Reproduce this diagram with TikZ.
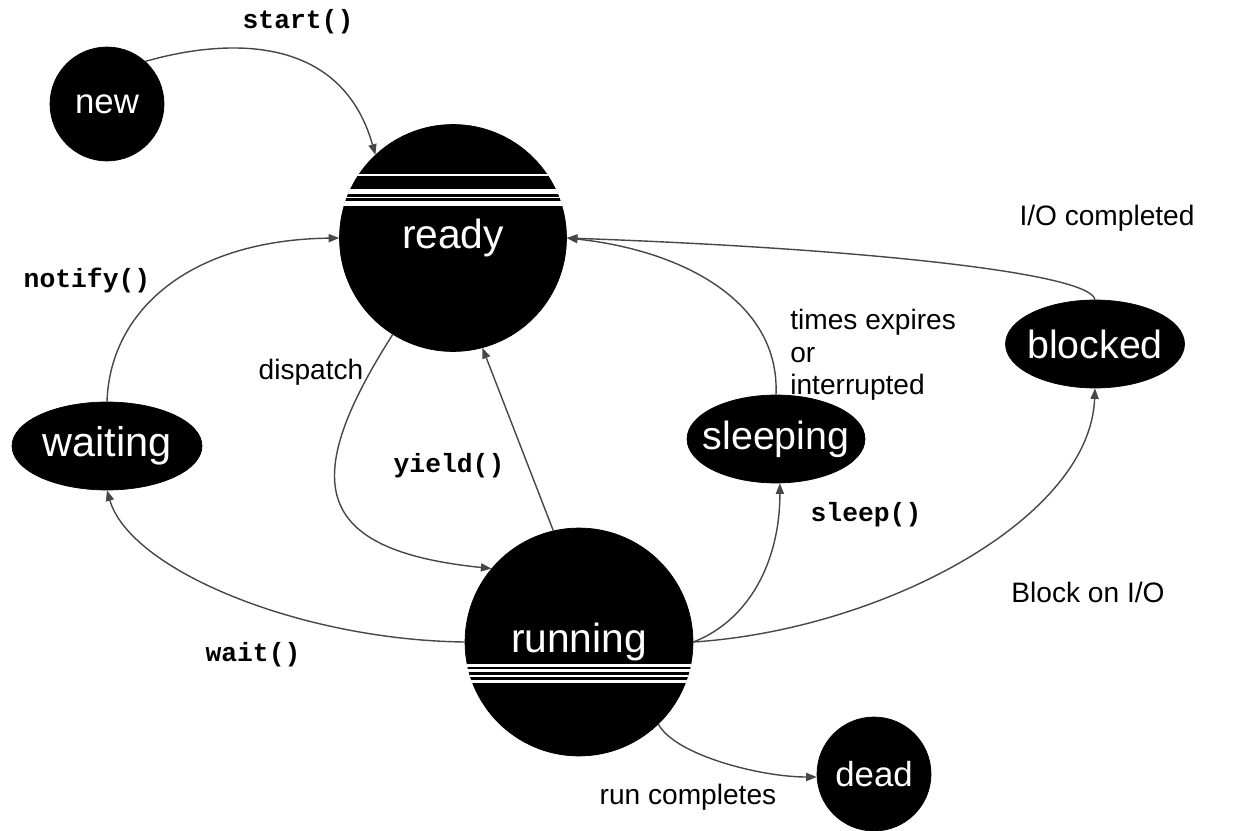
\documentclass[tikz,border=0pt]{standalone}
\usepackage{fontspec}
\setmainfont{Liberation Sans}
\setmonofont{Liberation Mono}
\usetikzlibrary{shapes.geometric,arrows.meta}
\begin{document}
\begin{tikzpicture}[x=0.02cm,y=-0.02cm,
  state/.style={circle,fill=black,draw=black,inner sep=0pt,text=white},
  ostate/.style={ellipse,fill=black,draw=black,inner sep=0pt},
  conn/.style={draw=black!72,line width=0.8pt,-{Triangle[length=6pt,width=4.6pt]}},
  lbl/.style={font=\fontsize{16}{18.4}\selectfont,inner sep=0pt,text=black},
  code/.style={font=\fontsize{15}{17}\selectfont\ttfamily\bfseries,inner sep=0pt,text=black},
  big/.style={font=\fontsize{23.2}{26}\selectfont},
  small/.style={font=\fontsize{19.8}{22}\selectfont},
  stripe/.style={fill=white},
]
\useasboundingbox[fill=white] (0,0) rectangle (1240,831);

% states
\node[state,small,minimum size=2.28cm] (new) at (107,104) {new};
\node[state,minimum size=4.54cm] (ready) at (453,238) {};
\node[state,minimum size=4.56cm] (running) at (579,642) {};
\node[ostate,minimum width=3.8cm,minimum height=1.76cm,
  label={[text=white,font=\fontsize{23.6}{26}\selectfont]center:waiting}] (waiting) at (107,446) {};
\node[ostate,minimum width=3.56cm,minimum height=1.76cm,
  label={[text=white,font=\fontsize{22.4}{25}\selectfont]center:sleeping}] (sleeping) at (776,439) {};
\node[ostate,minimum width=3.58cm,minimum height=1.76cm,
  label={[text=white,font=\fontsize{22.4}{25}\selectfont]center:blocked}] (blocked) at (1095,344) {};
\node[state,small,minimum size=2.28cm] (dead) at (874,774) {dead};

% stripes on ready and running
\begin{scope}
  \clip (453,238) circle [radius=114];
  \fill[stripe] (330,174.3) rectangle (580,175.8);
  \fill[stripe] (330,189) rectangle (580,194);
  \fill[stripe] (330,196.8) rectangle (580,198.2);
  \fill[stripe] (330,201.5) rectangle (580,206.3);
\end{scope}
\begin{scope}
  \clip (579,642) circle [radius=114.5];
  \fill[stripe] (460,664) rectangle (700,666.5);
  \fill[stripe] (460,669) rectangle (700,671.5);
  \fill[stripe] (460,674.5) rectangle (700,677);
  \fill[stripe] (460,680) rectangle (700,682.5);
\end{scope}
\node[text=white,big,inner sep=0pt] (readytext) at (ready.center) {ready};
\node[text=white,big,inner sep=0pt] (runningtext) at (running.center) {running};

% labels
\node[code] (lstart) at (298,22) {start()};
\node[code] (lnotify) at (87,280) {notify()};
\node[lbl] (ldispatch) at (311,372) {dispatch};
\node[code] (lyield) at (449,466) {yield()};
\node[code] (lwait) at (253,655) {wait()};
\node[code] (lsleep) at (866,515) {sleep()};
\node[lbl] (lblock) at (1088,592) {Block on I/O};
\node[lbl] (lrun) at (688,797) {run completes};
\node[lbl] (lio) at (1107,218) {I/O completed};
\node[lbl,anchor=west,align=left,font=\fontsize{16}{18.4}\selectfont] (ltimes) at (790,355) {times expires\\or\\interrupted};

% connectors
\draw[conn] (new.48) .. controls (220,40) and (340,30) .. (ready.133);
\draw[conn] (waiting.north) .. controls (110,310) and (190,240) .. (ready.180);
\draw[conn] (ready.238) .. controls (300,480) and (310,550) .. (running.140);
\draw[conn] (running.103) -- (ready.285);
\draw[conn] (running.180) .. controls (300,640) and (130,570) .. (waiting.south);
\draw[conn] (sleeping.north) .. controls (780,300) and (680,250) .. (ready.0);
\draw[conn] (blocked.north) .. controls (1090,272) and (850,248) .. (ready.0);
\draw[conn] (running.0) .. controls (750,620) and (780,560) .. (sleeping.-85);
\draw[conn] (running.0) .. controls (880,630) and (1090,520) .. (blocked.south);
\draw[conn] (running.314) .. controls (675,755) and (760,777) .. (dead.183);
\end{tikzpicture}
\end{document}
